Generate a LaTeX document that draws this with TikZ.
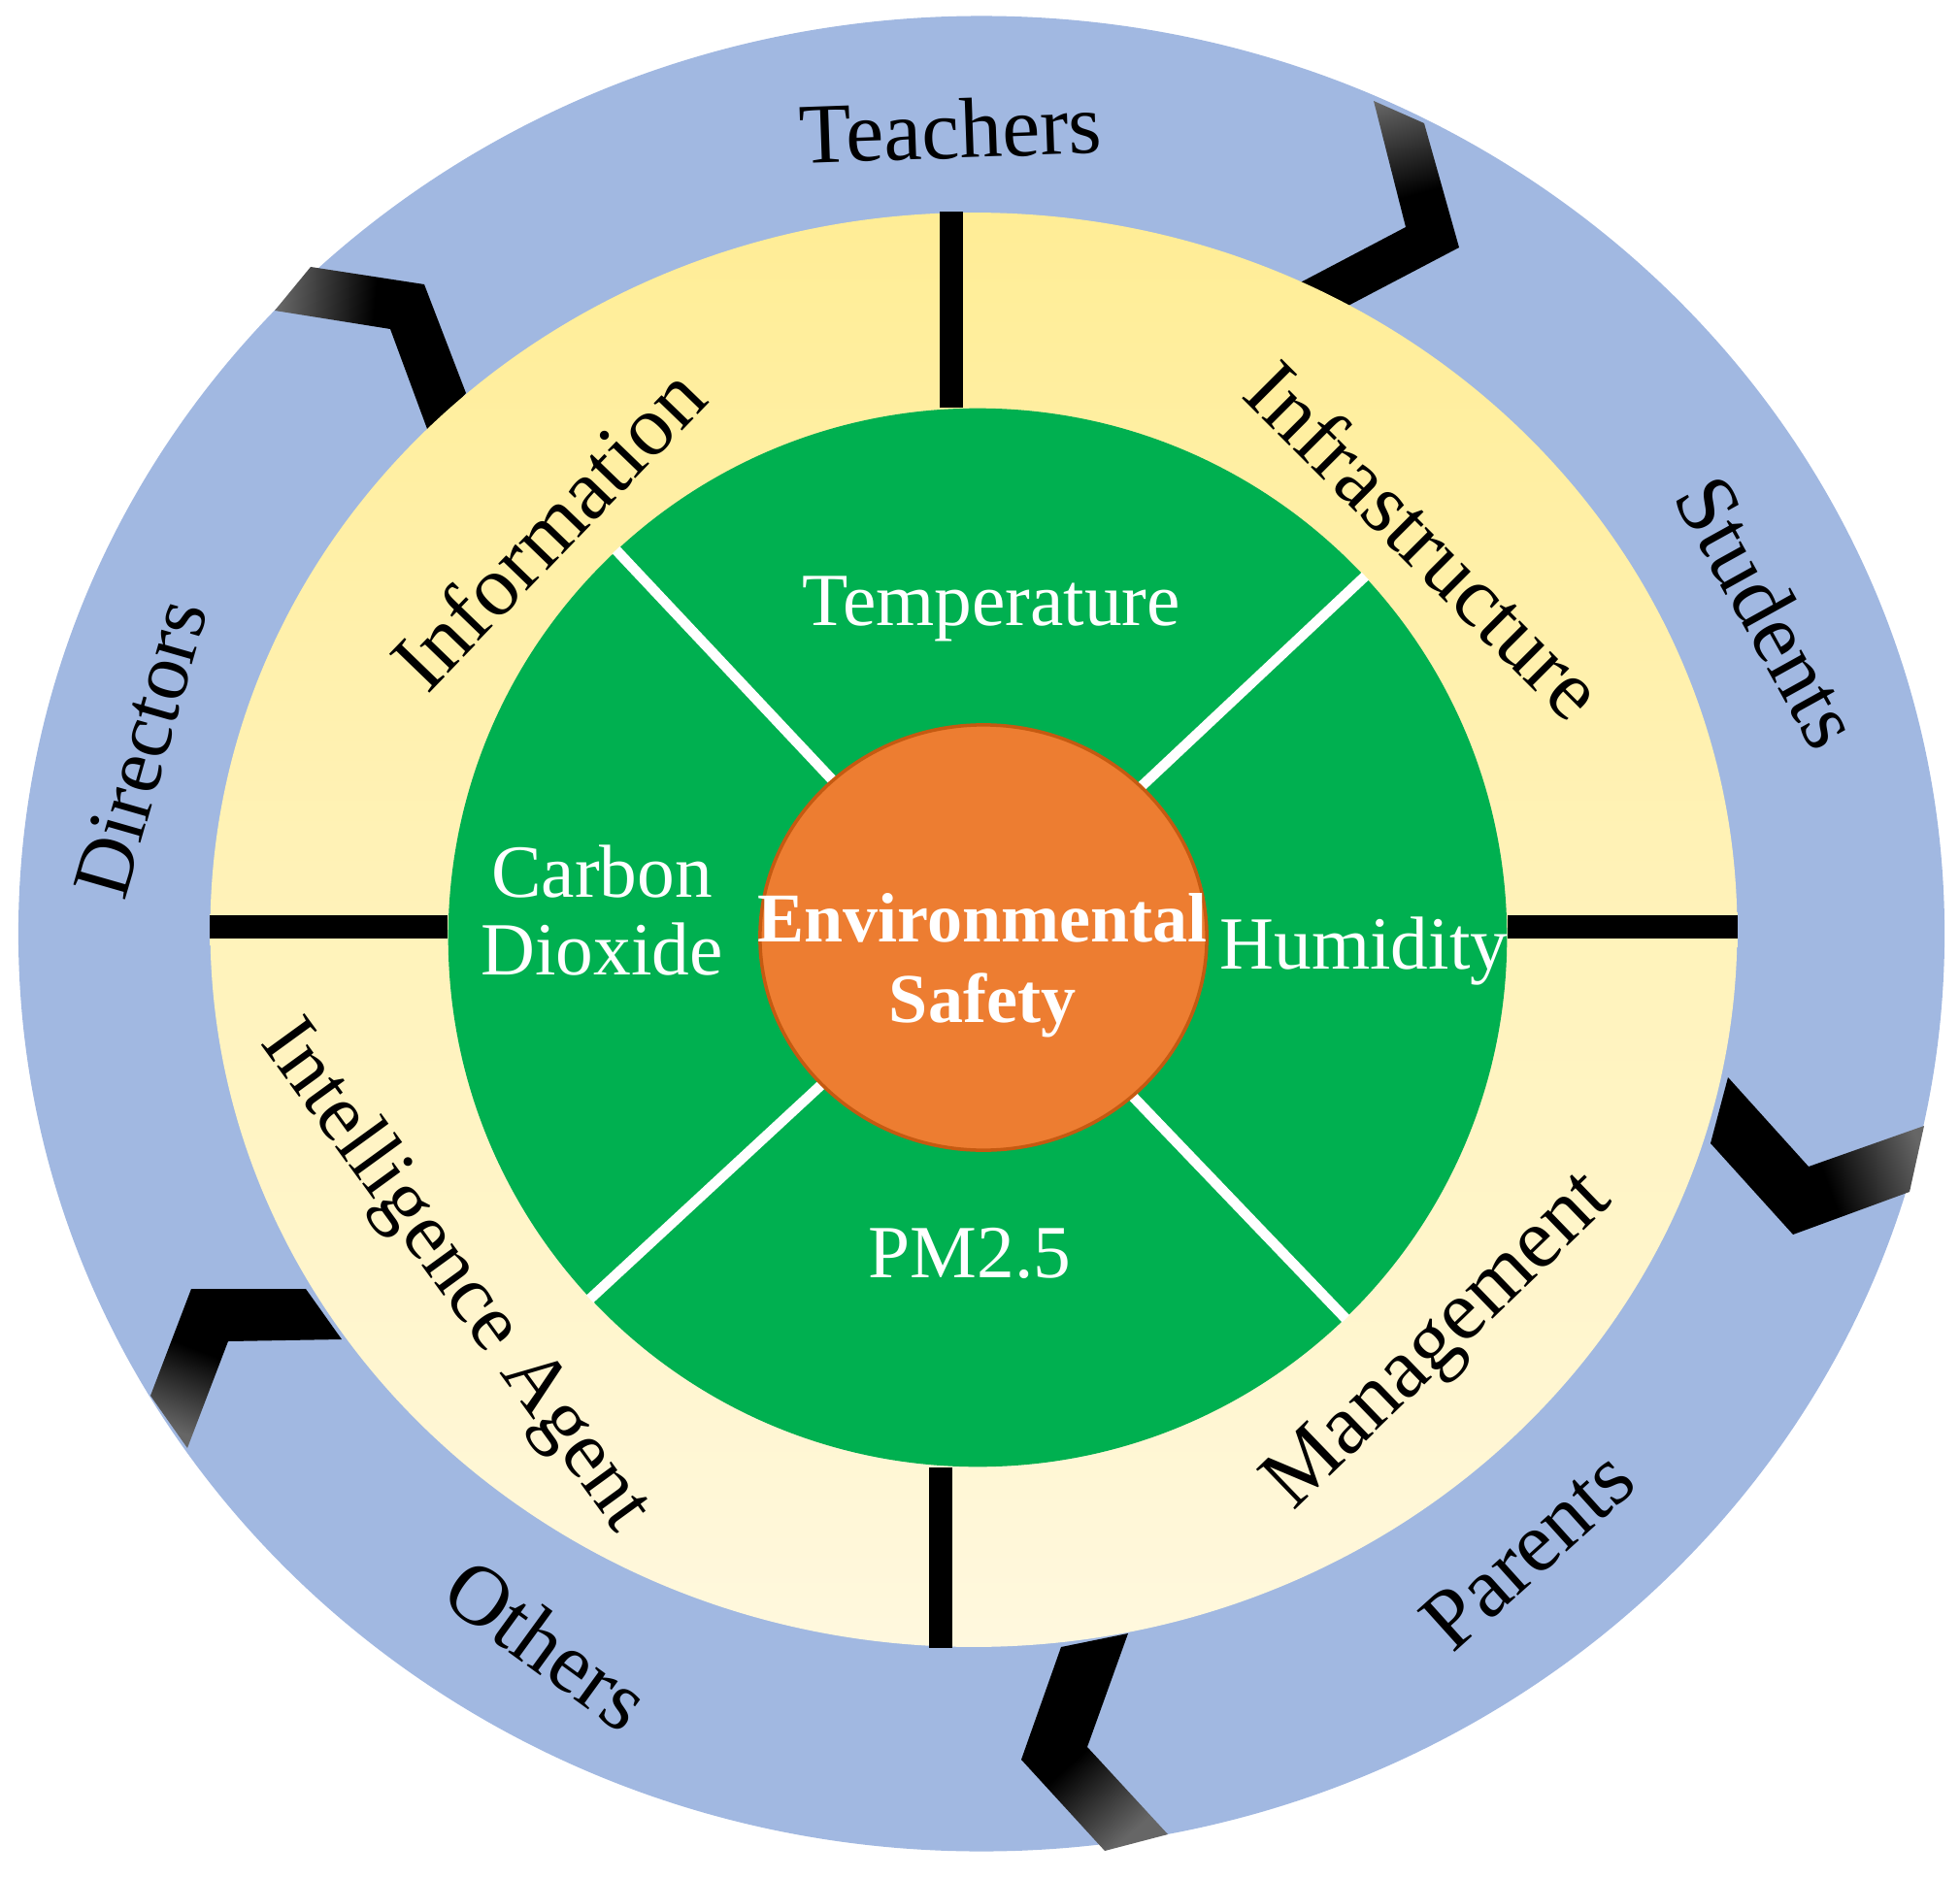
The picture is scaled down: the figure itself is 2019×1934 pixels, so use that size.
\documentclass[tikz,border=0pt]{standalone}
\usepackage{fontspec}
\setmainfont{Liberation Serif}
\usepackage{tikz}
\usetikzlibrary{shapes.geometric, calc}
\usepackage{xcolor}

\definecolor{rimblue}{RGB}{161,184,225}
\definecolor{ringtop}{RGB}{255,237,150}
\definecolor{ringbottom}{RGB}{255,248,222}
\definecolor{coregreen}{RGB}{0,176,80}
\definecolor{huborange}{RGB}{237,125,49}
\definecolor{hubedge}{RGB}{197,90,17}

\tikzset{
    rimlabel/.style={font=\fontsize{25}{30}\selectfont, text=black, inner sep=0pt},
    ringlabel/.style={font=\fontsize{25}{30}\selectfont, text=black, inner sep=0pt},
    corelabel/.style={font=\fontsize{22}{26}\selectfont, text=white, inner sep=0pt, anchor=base},
    hublabel/.style={font=\bfseries\fontsize{20.5}{24}\selectfont, text=white, inner sep=0pt, anchor=base},
    chevron/.style={top color=black!60, bottom color=black, middle color=black},
    divider/.style={line width=7pt, black},
    spoke/.style={line width=3pt, white}
}

\begin{document}
\begin{tikzpicture}[x=0.01cm, y=-0.01cm]
        \useasboundingbox (0,0) rectangle (2019,1934);

        \node[ellipse, fill=rimblue, minimum width=19.83cm, minimum height=18.9cm, inner sep=0pt] (rim) at (1011,962) {};

        % chevrons between the stakeholders
        \shade[chevron, shading angle=15] (1415,104) -- (1467,127) -- (1503,255) -- (1383,318) -- (1332,295) -- (1448,234) -- cycle;
        \shade[chevron, shading angle=85] (320,275) -- (437,293) -- (480,405) -- (443,450) -- (402,339) -- (283,320) -- cycle;
        \shade[chevron, shading angle=-70] (1780,1110) -- (1863,1202) -- (1982,1160) -- (1967,1228) -- (1847,1272) -- (1762,1178) -- cycle;
        \shade[chevron, shading angle=222] (1093,1697) -- (1162,1683) -- (1120,1800) -- (1203,1890) -- (1138,1907) -- (1052,1813) -- cycle;
        \shade[chevron, shading angle=159] (197,1328) -- (315,1328) -- (352,1380) -- (235,1382) -- (193,1492) -- (155,1438) -- cycle;

        \node[ellipse, top color=ringtop, bottom color=ringbottom, minimum width=15.72cm, minimum height=14.77cm, inner sep=0pt] (ring) at (1003,958) {};
        \node[circle, fill=coregreen, minimum size=10.9cm, inner sep=0pt] (core) at (1007,966) {};

        \draw[divider] (ring.west |- 0,955) -- (core.west |- 0,955);
        \draw[divider] (ring.east |- 0,955) -- (core.east |- 0,955);
        \draw[divider] (ring.north -| 980,0) -- (core.north -| 980,0);
        \draw[divider] (ring.south -| 969,0) -- (core.south -| 969,0);

        \foreach \a in {43,133,223,314} {
            \draw[spoke] (1010,966) -- (core.\a);
        }

        \node[ellipse, fill=huborange, draw=hubedge, line width=1pt, minimum width=4.6cm, minimum height=4.38cm, inner sep=0pt] (hub) at (1013,966) {};
        \node[hublabel] (envtop) at (1012,970) {Environmental};
        \node[hublabel] (envbot) at (1012,1053) {Safety};

        \node[corelabel] (temp) at (1021,644) {Temperature};
        \node[corelabel] (humid) at (1405,998) {Humidity};
        \node[corelabel] (pm) at (999,1316) {PM2.5};
        \node[corelabel] (carbon) at (620,924) {Carbon};
        \node[corelabel] (dioxide) at (620,1004) {Dioxide};

        \node[ringlabel, rotate=46] (info) at (564,544) {Information};
        \node[ringlabel, rotate=-45] (infra) at (1468,556) {Infrastructure};
        \node[ringlabel, font=\fontsize{24}{29}\selectfont, rotate=-54] (agent) at (468,1316) {Intelligence Agent};
        \node[ringlabel, rotate=44] (manage) at (1484,1384) {Management};

        \node[rimlabel, rotate=2] (teachers) at (979,133) {Teachers};
        \node[rimlabel, rotate=-61] (students) at (1822,630) {Students};
        \node[rimlabel, font=\fontsize{24}{29}\selectfont, rotate=74] (directors) at (145,771) {Directors};
        \node[rimlabel, rotate=-36] (others) at (564,1694) {Others};
        \node[rimlabel, rotate=42] (parents) at (1574,1597) {Parents};
\end{tikzpicture}
\end{document}
